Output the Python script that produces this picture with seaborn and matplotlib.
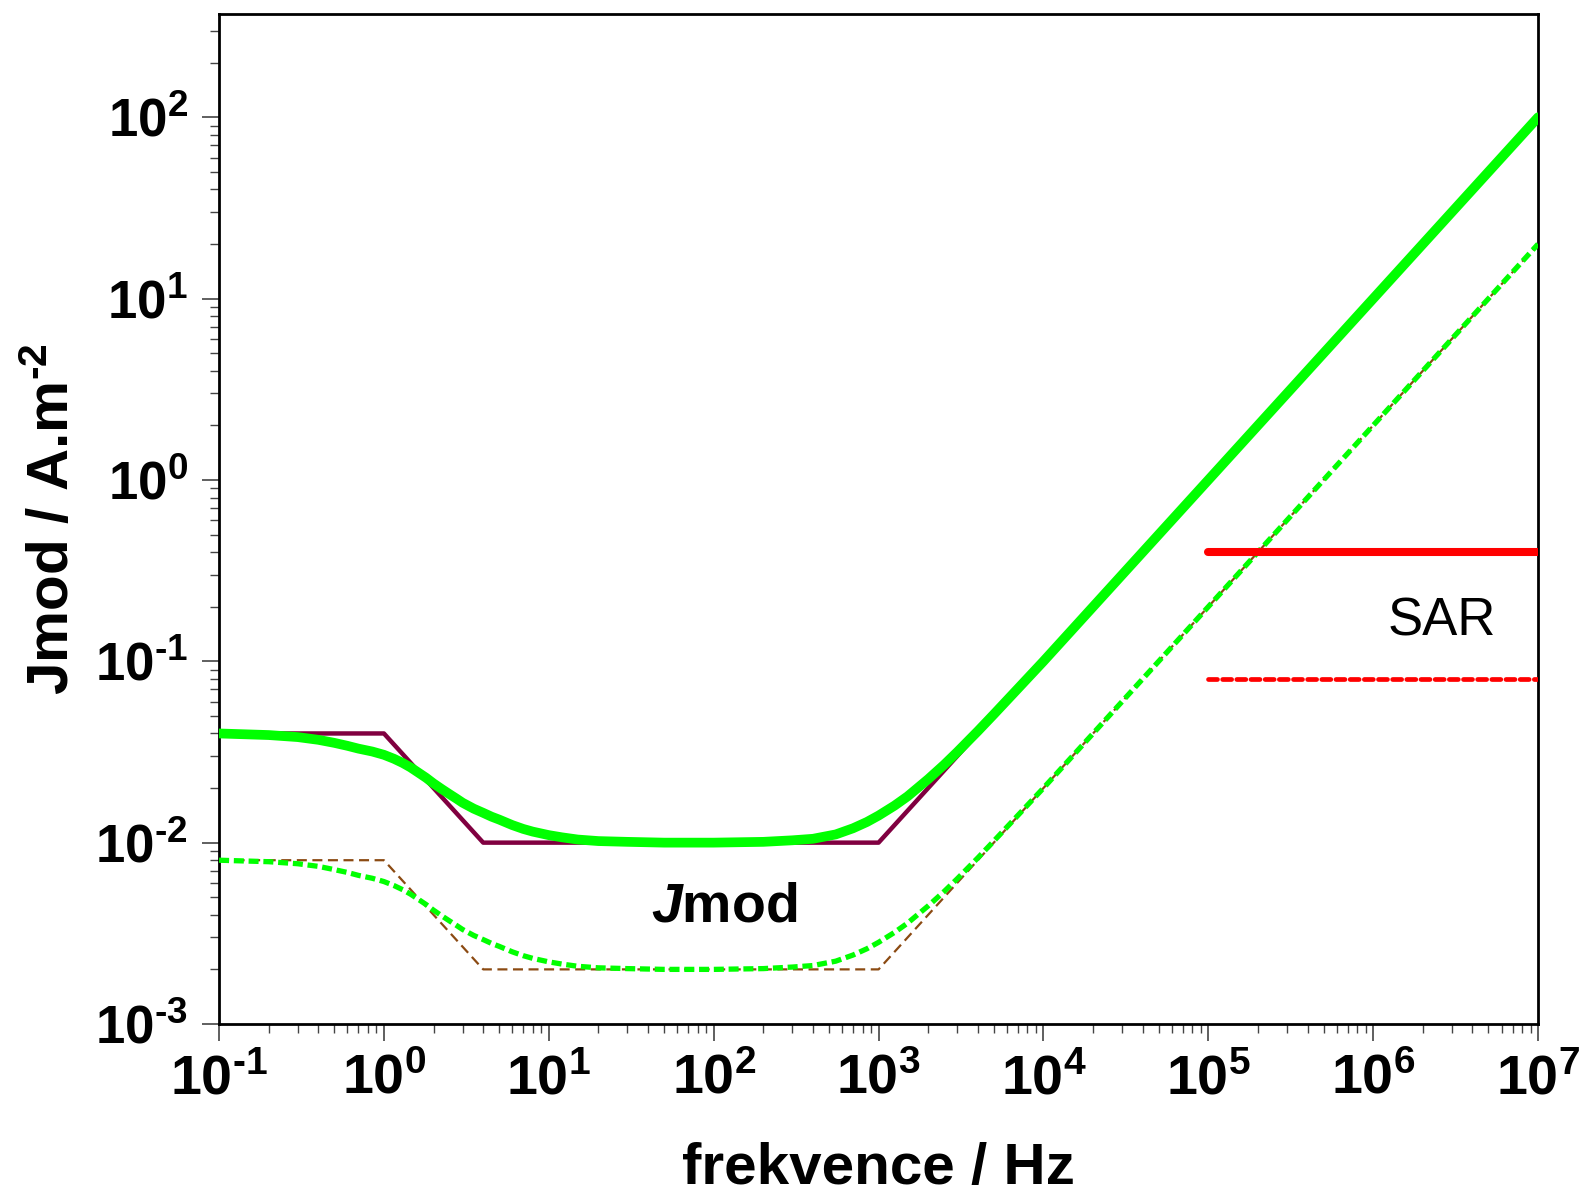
import numpy as np
import pandas as pd
import seaborn as sns
import matplotlib
matplotlib.use("Agg")
import matplotlib.pyplot as plt
from matplotlib import font_manager
from matplotlib.ticker import FixedLocator, FuncFormatter, NullFormatter

# ---------------- data ----------------
limit_freq = [0.1, 1, 4, 1000, 1e7]
occupational_limit = [0.04, 0.04, 0.01, 0.01, 100]
public_limit = [0.008, 0.008, 0.002, 0.002, 20]

smooth_freq = [0.1, 0.2, 0.3, 0.4, 0.5, 0.6, 0.7, 0.85, 1, 1.15, 1.3, 1.45, 1.6, 1.8, 2,
               2.25, 2.5, 2.75, 3, 3.5, 4, 4.5, 5, 6, 7, 8, 10, 12, 15, 20, 30,
               50, 100, 200, 300, 400, 550, 700, 850, 1000, 1250, 1500, 2000, 2500, 3000,
               4000, 5000, 7000, 1e4, 1e5, 1e6, 1e7]
smooth_occupational = [0.0400, 0.0392, 0.0382, 0.0369, 0.0355, 0.0342, 0.0330, 0.0318,
                       0.0305, 0.0290, 0.0275, 0.0260, 0.0245, 0.0228, 0.0212,
                       0.0197, 0.0185, 0.0175, 0.0166, 0.0154, 0.0146, 0.0139, 0.0134,
                       0.0125, 0.0119, 0.0115, 0.0110, 0.0107, 0.0104, 0.0102, 0.0101,
                       0.0100, 0.0100, 0.0101, 0.0103, 0.0105, 0.0111, 0.0120, 0.0130,
                       0.0141, 0.0160, 0.0180, 0.0224, 0.0269, 0.0316, 0.0412, 0.0510,
                       0.0707, 0.100, 1.0, 10.0, 100.0]
smooth_public = [0.0080, 0.00785, 0.00765, 0.0074, 0.0071, 0.00685, 0.0066, 0.00636,
                 0.0061, 0.0058, 0.0055, 0.0052, 0.0049, 0.00456, 0.00424,
                 0.00394, 0.0037, 0.0035, 0.00332, 0.00308, 0.00292, 0.00278, 0.00268,
                 0.0025, 0.00238, 0.0023, 0.0022, 0.00214, 0.00208, 0.00204, 0.00202,
                 0.0020, 0.0020, 0.00202, 0.00206, 0.0021, 0.00222, 0.0024, 0.0026,
                 0.00282, 0.0032, 0.0036, 0.00448, 0.00538, 0.00632, 0.00824, 0.0102,
                 0.01414, 0.020, 0.20, 2.0, 20.0]

sar_freq = [1e5, 1e7]
sar_occupational = [0.4, 0.4]
sar_public = [0.08, 0.08]

x_ticks = [1e-1, 1e0, 1e1, 1e2, 1e3, 1e4, 1e5, 1e6, 1e7]
y_ticks = [1e-3, 1e-2, 1e-1, 1e0, 1e1, 1e2]
x_limits = (1e-1, 1e7)
y_limits = (1e-3, 10 ** 2.57)

x_label = "frekvence / Hz"
y_label = r"Jmod / A.m$^{\mathbf{\text{-}2}}$"
jmod_text = r"$\mathit{J}$mod"
sar_text = "SAR"

# ---------------- style ----------------
names = {f.name for f in font_manager.fontManager.ttflist}
NARROW = "Liberation Sans Narrow" if "Liberation Sans Narrow" in names else "Liberation Sans"

sns.set_style("white")
plt.rcParams["font.family"] = ["Liberation Sans", "DejaVu Sans"]
plt.rcParams["text.color"] = "black"
plt.rcParams["axes.labelcolor"] = "black"
plt.rcParams["mathtext.fontset"] = "custom"
plt.rcParams["mathtext.rm"] = NARROW + ":bold"
plt.rcParams["mathtext.bf"] = "Liberation Sans:bold"
plt.rcParams["mathtext.it"] = "Liberation Sans:italic:bold"
plt.rcParams["mathtext.default"] = "rm"

fig = plt.figure(figsize=(15.85, 12.01), dpi=100)
ax = fig.add_axes([0.1382, 0.1474, 0.8322, 0.841])
ax.set_xscale("log")
ax.set_yscale("log")

def draw(xv, yv, color, lw, dashes=None, cap="butt", z=2):
    d = pd.DataFrame({"f": xv, "J": yv})
    sns.lineplot(data=d, x="f", y="J", ax=ax, color=color, linewidth=lw,
                 sort=False, estimator=None, zorder=z)
    ln = ax.lines[-1]
    if dashes is not None:
        ln.set_dashes(dashes)
        ln.set_dash_capstyle(cap)
    ln.set_solid_capstyle(cap)
    ln.set_solid_joinstyle("round")
    return ln

draw(limit_freq, occupational_limit, "#800040", 3.2, z=2)
draw(limit_freq, public_limit, "#8B4A12", 1.6, dashes=(4.5, 2.5), z=2)
draw(smooth_freq, smooth_public, "#00FF00", 3.8, dashes=(1.9, 0.9), z=3)
draw(smooth_freq, smooth_occupational, "#00FF00", 7.0, cap="round", z=3)
draw(sar_freq, sar_occupational, "#FF0000", 5.8, cap="round", z=4)
draw(sar_freq, sar_public, "#FF0000", 3.4, dashes=(1.9, 1.1), cap="round", z=4)

ax.set_xlim(*x_limits)
ax.set_ylim(*y_limits)

# ticks
ax.xaxis.set_major_locator(FixedLocator(x_ticks))
ax.yaxis.set_major_locator(FixedLocator(y_ticks))
xminor = [m * t for t in x_ticks[:-1] for m in range(2, 10)]
yminor = [m * t for t in y_ticks for m in range(2, 10)]
ax.xaxis.set_minor_locator(FixedLocator(xminor))
ax.yaxis.set_minor_locator(FixedLocator(yminor))
ax.xaxis.set_minor_formatter(NullFormatter())
ax.yaxis.set_minor_formatter(NullFormatter())

def exp_str(v):
    e = int(round(np.log10(v)))
    return (r"\text{-}%d" % (-e)) if e < 0 else "%d" % e

ax.xaxis.set_major_formatter(FuncFormatter(lambda v, p: r"$10^{%s}$" % exp_str(v)))
ax.yaxis.set_major_formatter(
    FuncFormatter(lambda v, p: r"$\mathbf{10}^{\mathbf{%s}}$" % exp_str(v)))

ax.tick_params(axis="both", which="both", direction="out", colors="#444444",
               bottom=True, left=True, top=False, right=False)
ax.tick_params(axis="both", which="major", length=12.5, width=1.2)
ax.tick_params(axis="both", which="minor", length=6.5, width=1.0)
ax.tick_params(axis="x", which="major", labelsize=40, pad=9, labelcolor="black")
ax.tick_params(axis="y", which="major", labelsize=38, pad=10, labelcolor="black")

for s in ax.spines.values():
    s.set_visible(True)
    s.set_color("black")
    s.set_linewidth(2.0)

ax.set_xlabel(x_label, fontsize=42, fontweight="bold", family=NARROW, labelpad=26)
ax.set_ylabel(y_label, fontsize=42, fontweight="bold", labelpad=10)

ax.text(115, 0.0044, jmod_text, fontsize=40, fontweight="bold",
        ha="center", va="center")
ax.text(2.6e6, 0.165, sar_text, fontsize=38, ha="center", va="center")

fig.savefig("out.png", dpi=100)
